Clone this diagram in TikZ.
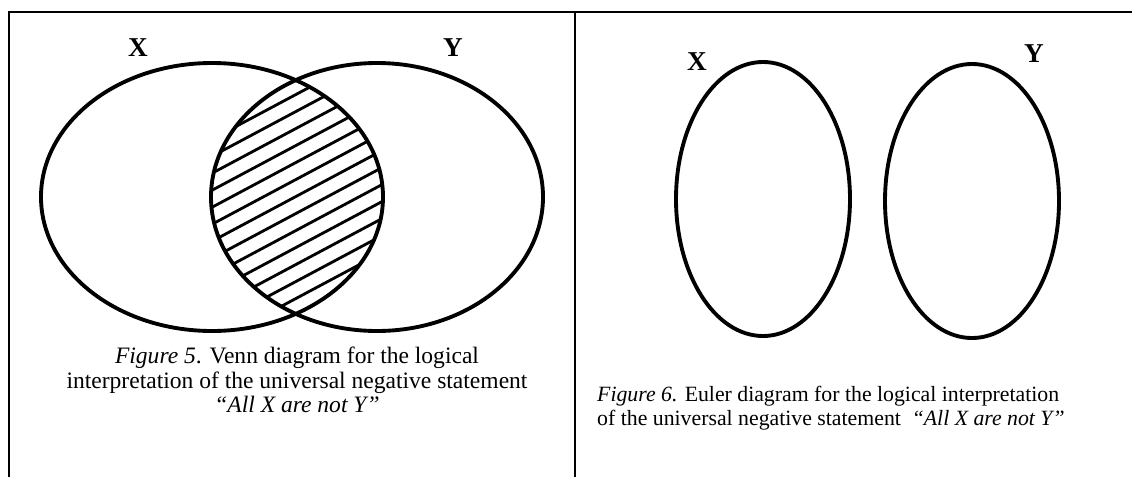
\documentclass[tikz,border=0pt]{standalone}
\usepackage{fontspec}
\setmainfont{Liberation Serif}
\newcommand{\capFive}{\fontsize{13.4}{14}\selectfont}
\newcommand{\capSix}{\fontsize{12.4}{13.6}\selectfont}
\newcommand{\setLabel}{\fontsize{15.5}{17}\selectfont\bfseries}
\newcommand{\setRing}[4]{%
    \draw[line width=2.2pt] (#1,#2) ellipse [x radius=#3, y radius=#4];
}

\begin{document}
\begin{tikzpicture}[x=0.02cm, y=-0.02cm]
    \useasboundingbox (0,0) rectangle (1132,477);

    % frame of the two panels
    \coordinate (tl) at (9,12);
    \coordinate (tr) at (1132,12);
    \coordinate (bl) at (9,477);
    \coordinate (mt) at (575,12);
    \coordinate (mb) at (575,477);
    \draw[line width=1.6pt] (bl) -- (tl) -- (tr);
    \draw[line width=1.2pt] (mt) -- (mb);

    % Venn diagram
    \begin{scope}
        \clip (212,197) ellipse [x radius=171, y radius=134];
        \clip (377,197) ellipse [x radius=166, y radius=134];
        \foreach \k in {-10,...,10} {
            \draw[line width=1.6pt] (175,{197+\k*17+64}) -- ++(240,-128);
        }
    \end{scope}
    \setRing{212}{197}{171}{134}
    \setRing{377}{197}{166}{134}
    \node[font=\setLabel] (vx) at (138,48) {X};
    \node[font=\setLabel] (vy) at (453,48) {Y};
    \node[align=center, font=\capFive] (cap5) at (297,380)
        {\textit{Figure 5}. Venn diagram for the logical\\
         interpretation of the universal negative statement\\
         \textit{``All X are not Y''}};

    % Euler diagram
    \setRing{763}{199}{87}{137}
    \setRing{972}{201}{87}{137}
    \node[font=\setLabel] (ex) at (697,62) {X};
    \node[font=\setLabel] (ey) at (1034,54) {Y};
    \node[align=left, font=\capSix, anchor=west] (cap6) at (591,408)
        {\textit{Figure 6.} Euler diagram for the logical interpretation\\
         of the universal negative statement~ \textit{``All X are not Y''}};
\end{tikzpicture}
\end{document}
